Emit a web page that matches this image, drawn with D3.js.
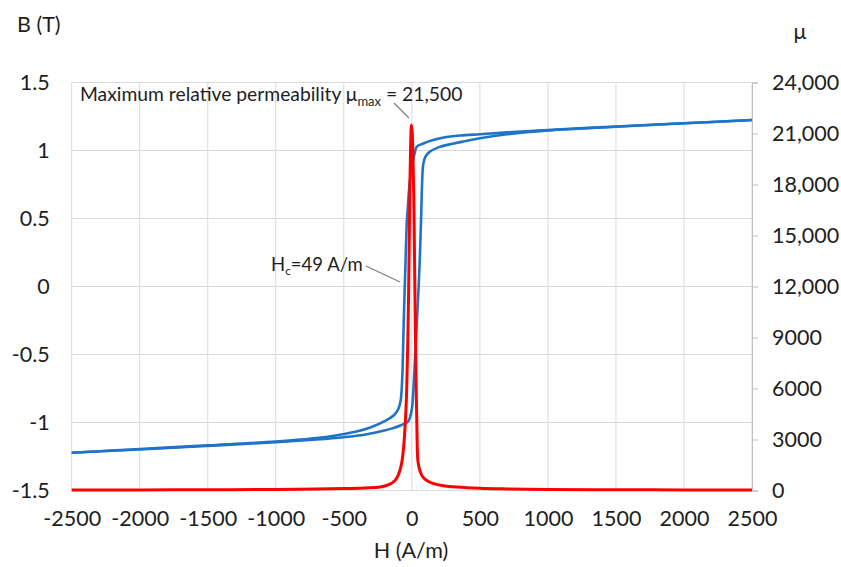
<!DOCTYPE html>
<html>
<head>
<meta charset="utf-8">
<script src="https://cdn.jsdelivr.net/npm/d3@7"></script>
<style>
  html, body { margin: 0; padding: 0; background: #fff; }
  svg text { font-family: Lato, "Open Sans", sans-serif; fill: #1e1e1e; }
</style>
</head>
<body>
<svg id="chart" width="841" height="567"></svg>
<script>
// ---- data ----
const hTicks = [-2500, -2000, -1500, -1000, -500, 0, 500, 1000, 1500, 2000, 2500];
const bTicks = [-1.5, -1, -0.5, 0, 0.5, 1, 1.5];
const muTicks = [0, 3000, 6000, 9000, 12000, 15000, 18000, 21000, 24000];

// ascending branch of B-H loop (H in A/m, B in T)
const ascH = [-2500, -2000, -1500, -1000, -700, -500, -350, -234, -150, -80, -26, -1, 10, 20, 30, 40, 50, 60, 68, 75, 84, 100, 130, 200, 300, 400, 500, 700, 1000, 1500, 2000, 2500];
const ascB = [-1.222, -1.198, -1.172, -1.145, -1.125, -1.108, -1.09, -1.066, -1.045, -1.02, -0.99, -0.906, -0.78, -0.6, -0.4, -0.2, 0, 0.25, 0.5, 0.75, 0.9, 0.955, 0.99, 1.025, 1.05, 1.07, 1.09, 1.12, 1.148, 1.175, 1.2, 1.224];

// descending branch of B-H loop
const descH = [2500, 2000, 1500, 1000, 700, 500, 354, 234, 150, 80, 36, 23, 10, 0, -14, -25, -38, -46, -52, -58, -63, -68, -75, -84, -99, -130, -200, -300, -400, -528, -700, -1000, -1500, -2000, -2500];
const descB = [1.224, 1.2, 1.177, 1.15, 1.133, 1.12, 1.11, 1.095, 1.075, 1.05, 1.028, 0.99, 0.93, 0.88, 0.78, 0.65, 0.45, 0.2, 0, -0.2, -0.4, -0.6, -0.76, -0.85, -0.9, -0.945, -0.99, -1.035, -1.065, -1.09, -1.115, -1.14, -1.168, -1.195, -1.222];

// relative permeability vs H
const muH = [-2500, -2000, -1500, -1000, -700, -500, -350, -234, -170, -124, -100, -75, -60, -48, -38, -28, -20, -15, -9, -3, 3, 9, 15, 22, 32, 38, 45, 60, 80, 110, 160, 230, 330, 500, 700, 1000, 1500, 2000, 2500];
const muV = [30, 35, 45, 65, 90, 115, 150, 200, 340, 590, 900, 1600, 2600, 4000, 5900, 9500, 14000, 17500, 20300, 21500, 21000, 19300, 17000, 12000, 5900, 3300, 1700, 1150, 800, 590, 400, 280, 200, 130, 95, 65, 45, 35, 30];

// ---- chart ----
const svg = d3.select("#chart");
const L = 71.7, R = 752, T = 82.5, B = 490.5;
const x = d3.scaleLinear().domain([-2500, 2500]).range([L, R]);
const yB = d3.scaleLinear().domain([-1.5, 1.5]).range([B, T]);
const yMu = d3.scaleLinear().domain([0, 24000]).range([B, T]);
const gridCol = "#d9d9d9";
const FONT = "Lato, 'Open Sans', sans-serif";
const TICK_FS = 21.5;

// gridlines
svg.append("g").selectAll("line").data(hTicks).join("line")
  .attr("x1", d => x(d)).attr("x2", d => x(d)).attr("y1", T).attr("y2", B)
  .attr("stroke", gridCol).attr("stroke-width", 1);
svg.append("g").selectAll("line").data(bTicks).join("line")
  .attr("x1", L).attr("x2", R).attr("y1", d => yB(d)).attr("y2", d => yB(d))
  .attr("stroke", gridCol).attr("stroke-width", 1);

// right axis
const rAxis = d3.axisRight(yMu).tickValues(muTicks).tickSize(6).tickPadding(14)
  .tickFormat(d => d >= 10000 ? d3.format(",")(d) : String(d));
const gR = svg.append("g").attr("transform", `translate(${R},0)`).call(rAxis);
gR.select(".domain").attr("stroke", "#bfbfbf");
gR.selectAll(".tick line").attr("stroke", "#bfbfbf");
gR.selectAll(".tick text").attr("font-size", TICK_FS).attr("font-family", FONT).attr("fill", "#1e1e1e");

// left axis labels
const lAxis = d3.axisLeft(yB).tickValues(bTicks).tickSize(0).tickPadding(22)
  .tickFormat(d => String(d));
const gL = svg.append("g").attr("transform", `translate(${L},0)`).call(lAxis);
gL.select(".domain").remove();
gL.selectAll(".tick text").attr("font-size", TICK_FS).attr("font-family", FONT).attr("fill", "#1e1e1e");

// bottom axis labels
const bAxis = d3.axisBottom(x).tickValues(hTicks).tickSize(0).tickPadding(20)
  .tickFormat(d => String(d));
const gB = svg.append("g").attr("transform", `translate(0,${B})`).call(bAxis);
gB.select(".domain").remove();
gB.selectAll(".tick text").attr("font-size", TICK_FS).attr("font-family", FONT).attr("fill", "#1e1e1e");

// lines
const blue = "#1f74c9";
const lineB = d3.line().x(d => x(d[0])).y(d => yB(d[1])).curve(d3.curveCatmullRom.alpha(0.5));
const lineMu = d3.line().x(d => x(d[0])).y(d => yMu(d[1])).curve(d3.curveCatmullRom.alpha(0.5));

svg.append("path").datum(d3.zip(ascH, ascB)).attr("d", lineB)
  .attr("fill", "none").attr("stroke", blue).attr("stroke-width", 2.6);
svg.append("path").datum(d3.zip(descH, descB)).attr("d", lineB)
  .attr("fill", "none").attr("stroke", blue).attr("stroke-width", 2.6);
svg.append("path").datum(d3.zip(muH, muV)).attr("d", lineMu)
  .attr("fill", "none").attr("stroke", "#ff0000").attr("stroke-width", 3);

// axis titles
svg.append("text").attr("x", 17).attr("y", 32).attr("font-size", 21.5).text("B (T)");
svg.append("text").attr("x", 800).attr("y", 39).attr("font-size", 21.5).attr("text-anchor", "middle").text("μ");
svg.append("text").attr("x", 411).attr("y", 558).attr("font-size", 21.5).attr("text-anchor", "middle").text("H (A/m)");

// annotations
const ann1 = svg.append("text").attr("x", 80).attr("y", 101).attr("font-size", 19.3);
ann1.append("tspan").text("Maximum relative permeability μ");
ann1.append("tspan").attr("font-size", 13).attr("dy", 5).text("max");
ann1.append("tspan").attr("dy", -5).text(" = 21,500");
svg.append("line").attr("x1", 394).attr("y1", 103).attr("x2", 409).attr("y2", 118)
  .attr("stroke", "#7f7f7f").attr("stroke-width", 1.2);

const ann2 = svg.append("text").attr("x", 271).attr("y", 271).attr("font-size", 18.5);
ann2.append("tspan").text("H");
ann2.append("tspan").attr("font-size", 12).attr("dy", 4).text("c");
ann2.append("tspan").attr("dy", -4).text("=49 A/m");
svg.append("line").attr("x1", 366).attr("y1", 266).attr("x2", 400).attr("y2", 282)
  .attr("stroke", "#7f7f7f").attr("stroke-width", 1.2);
</script>
</body>
</html>
